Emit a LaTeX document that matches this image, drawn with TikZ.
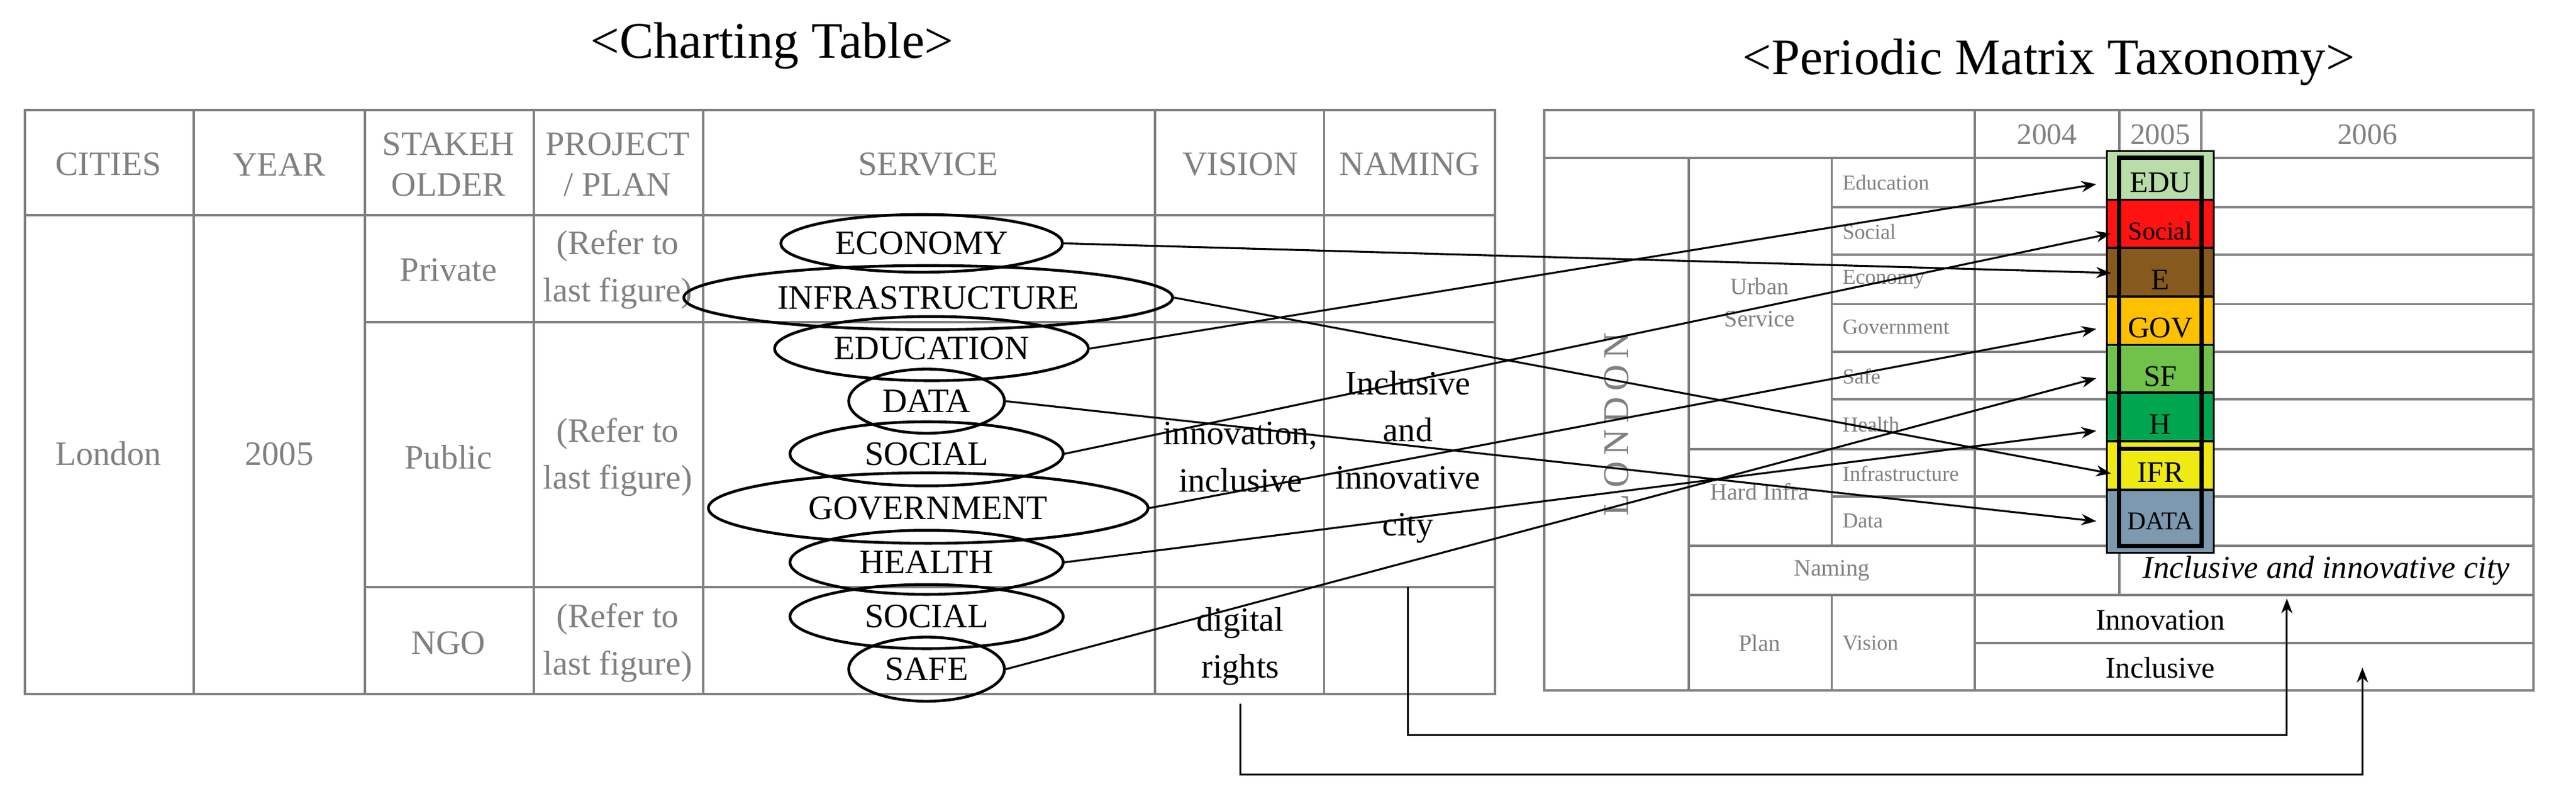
\documentclass[tikz,border=0pt]{standalone}
\usepackage{fontspec}
\setmainfont{Liberation Serif}
\usetikzlibrary{shapes.geometric,arrows.meta}
\definecolor{tg}{HTML}{808080}
\begin{document}
\begin{tikzpicture}[x=0.02705cm,y=-0.02705cm,
  grid/.style={draw=tg,line width=1.1pt},
  hd/.style={text=tg,font=\fontsize{16}{19}\selectfont,align=center},
  cl/.style={text=tg,font=\fontsize{16}{22}\selectfont,align=center},
  el/.style={ellipse,draw=black,line width=1.3pt,inner sep=0pt,font=\fontsize{16}{18}\selectfont},
  bt/.style={font=\fontsize{16}{22}\selectfont,align=center},
  sm/.style={text=tg,font=\fontsize{10}{12}\selectfont,anchor=west},
  cell/.style={draw=black,line width=1pt,minimum width=50,minimum height=29.5,inner sep=0pt,font=\fontsize{14}{16}\selectfont},
  con/.style={line width=0.9pt,-{Stealth[length=7pt]}}]
\useasboundingbox (0,0) rectangle (1568,487);
% titles
\node (t1) at (470,28) {\fontsize{24}{28}\selectfont <Charting Table>};
\node (t2) at (1247,38) {\fontsize{24}{28}\selectfont <Periodic Matrix Taxonomy>};
% ---- left table
\draw[grid] (15,67) rectangle (910,422);
\draw[grid] (15,131) -- (910,131);
\foreach \x in {118,222,325,428,703,806} \draw[grid] (\x,67) -- (\x,422);
\draw[grid] (222,196) -- (910,196);
\draw[grid] (222,357) -- (910,357);
\node[hd] (h1) at (66,100) {CITIES};
\node[hd] (h2) at (170,100) {YEAR};
\node[hd] (h3) at (273,100) {STAKEH\\OLDER};
\node[hd] (h4) at (376,100) {PROJECT\\/ PLAN};
\node[hd] (h5) at (565,100) {SERVICE};
\node[hd] (h6) at (755,100) {VISION};
\node[hd] (h7) at (858,100) {NAMING};
\node[cl] (c1) at (66,276) {London};
\node[cl] (c2) at (170,276) {2005};
\node[cl] (s1) at (273,164) {Private};
\node[cl] (s2) at (273,278) {Public};
\node[cl] (s3) at (273,391) {NGO};
\node[cl] (p1) at (376,164) {(Refer to\\last figure)};
\node[cl] (p2) at (376,278) {(Refer to\\last figure)};
\node[cl] (p3) at (376,391) {(Refer to\\last figure)};
\node[el,minimum width=132,minimum height=27] (eEco) at (561,148) {ECONOMY};
\node[el,minimum width=229,minimum height=30] (eInf) at (565,181) {INFRASTRUCTURE};
\node[el,minimum width=147,minimum height=30] (eEdu) at (567,212) {EDUCATION};
\node[el,minimum width=73,minimum height=30] (eDat) at (564,244) {DATA};
\node[el,minimum width=128,minimum height=30] (eSoc) at (564,276) {SOCIAL};
\node[el,minimum width=206,minimum height=33] (eGov) at (565,309) {GOVERNMENT};
\node[el,minimum width=128,minimum height=30] (eHea) at (564,342) {HEALTH};
\node[el,minimum width=128,minimum height=30] (eSoc2) at (564,375) {SOCIAL};
\node[el,minimum width=73,minimum height=30] (eSaf) at (564,407) {SAFE};
\node[bt] (v1) at (755,278) {innovation,\\inclusive};
\node[bt,text width=100] (n1) at (857,278) {Inclusive\\and\\innovative\\city};
\node[bt] (v2) at (755,393) {digital\\rights};
% ---- right table
\draw[grid] (940,67) rectangle (1542,420);
\draw[grid] (940,96) -- (1542,96);
\foreach \x in {1202,1290,1340} \draw[grid] (\x,67) -- (\x,332);
\draw[grid] (1028,96) -- (1028,420);
\draw[grid] (1115,96) -- (1115,332);
\draw[grid] (1115,362) -- (1115,420);
\foreach \y in {126,155,185,214,243,302} \draw[grid] (1115,\y) -- (1542,\y);
\draw[grid] (1028,273) -- (1542,273);
\draw[grid] (1028,332) -- (1542,332);
\draw[grid] (1028,362) -- (1542,362);
\draw[grid] (1202,391) -- (1542,391);
\draw[grid] (1202,332) -- (1202,420);
\draw[grid] (1290,332) -- (1290,362);
\node[text=tg,font=\fontsize{14}{16}\selectfont] (y4) at (1246,82) {2004};
\node[text=tg,font=\fontsize{14}{16}\selectfont] (y5) at (1315,82) {2005};
\node[text=tg,font=\fontsize{14}{16}\selectfont] (y6) at (1441,82) {2006};
\node[text=tg,rotate=90,font=\fontsize{17}{20}\selectfont] (lon) at (984,258) {L\,O\,N\,D\,O\,N};
\node[text=tg,font=\fontsize{11}{15}\selectfont,align=center] (us) at (1071,184) {Urban\\Service};
\node[text=tg,font=\fontsize{11}{13}\selectfont] (hi) at (1071,299) {Hard Infra};
\node[sm] (r1) at (1117,111) {Education};
\node[sm] (r2) at (1117,141) {Social};
\node[sm] (r3) at (1117,170) {Economy};
\node[sm] (r4) at (1117,199) {Government};
\node[sm] (r5) at (1117,229) {Safe};
\node[sm] (r6) at (1117,258) {Health};
\node[sm] (r7) at (1117,288) {Infrastructure};
\node[sm] (r8) at (1117,317) {Data};
\node[text=tg,font=\fontsize{11}{13}\selectfont] (nm) at (1115,347) {Naming};
\node[text=tg,font=\fontsize{11}{13}\selectfont] (pl) at (1071,391) {Plan};
\node[sm] (vi) at (1117,391) {Vision};
\node[font=\itshape\fontsize{15}{18}\selectfont] (nc) at (1416,347) {Inclusive and innovative city};
\node[font=\fontsize{14}{16}\selectfont] (inn) at (1315,377) {Innovation};
\node[font=\fontsize{14}{16}\selectfont] (inc) at (1315,406) {Inclusive};
\node[cell,fill={rgb,255:red,184;green,221;blue,168}] (cEDU) at (1315,111) {EDU};
\node[cell,fill={rgb,255:red,255;green,18;blue,18},font=\fontsize{12}{14}\selectfont] (cSOC) at (1315,140.5) {Social};
\node[cell,fill={rgb,255:red,134;green,90;blue,30}] (cE) at (1315,170) {E};
\node[cell,fill={rgb,255:red,255;green,192;blue,0}] (cGOV) at (1315,199.5) {GOV};
\node[cell,fill={rgb,255:red,112;green,194;blue,74}] (cSF) at (1315,229) {SF};
\node[cell,fill={rgb,255:red,0;green,165;blue,80}] (cH) at (1315,258) {H};
\node[cell,fill={rgb,255:red,238;green,234;blue,18}] (cIFR) at (1315,287.5) {IFR};
\node[cell,fill={rgb,255:red,125;green,153;blue,176},font=\fontsize{12}{14}\selectfont] (cDAT) at (1315,317) {DATA};
\draw[black,line width=2pt] (1290,96) rectangle (1340,332);
\draw[black,line width=2pt] (1290,273) -- (1340,273);
% arrow targets
\coordinate (tEDU) at (1276,112);
\coordinate (tSOC) at (1285,142);
\coordinate (tE) at (1285,166);
\coordinate (tGOV) at (1276,200);
\coordinate (tSF) at (1276,230);
\coordinate (tH) at (1276,262);
\coordinate (tIFR) at (1285,288);
\coordinate (tDAT) at (1276,317);
\draw[con] (eEco.east) -- (tE);
\draw[con] (eInf.east) -- (tIFR);
\draw[con] (eEdu.east) -- (tEDU);
\draw[con] (eDat.east) -- (tDAT);
\draw[con] (eSoc.east) -- (tSOC);
\draw[con] (eGov.east) -- (tGOV);
\draw[con] (eHea.east) -- (tH);
\draw[con] (eSaf.east) -- (tSF);
% elbow arrows
\coordinate (nA) at (857,357);
\coordinate (nB) at (1392,364);
\coordinate (vA) at (755,428);
\coordinate (vB) at (1438,406);
\draw[con] (nA) -- (857,447) -| (nB);
\draw[con] (vA) -- (755,471) -| (vB);
\end{tikzpicture}
\end{document}
